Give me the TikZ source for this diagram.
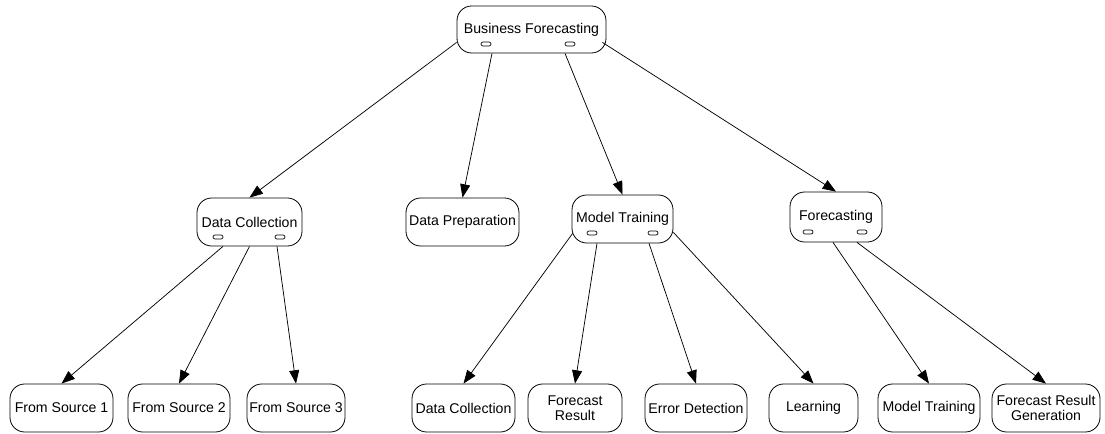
\documentclass[tikz,border=0pt]{standalone}
\usepackage{fontspec}
\setmainfont{Liberation Sans}
\usepackage{tikz}
\usetikzlibrary{arrows.meta,calc}

\tikzset{
  box/.style={draw, rounded corners=11pt, align=center, inner sep=0pt,
    minimum height=36pt, font=\fontsize{10.6}{11.5}\selectfont, line width=0.6pt},
  link/.style={-{Triangle[length=10pt,width=7.5pt]}, line width=0.55pt},
  grip/.style={draw, rounded corners=1.5pt, line width=0.5pt}
}

\begin{document}
\begin{tikzpicture}[x=0.75pt, y=-0.75pt]
  \useasboundingbox (0,0) rectangle (1105,434);
  % top level
  \node[box, minimum width=111.75pt, minimum height=35.25pt] (bf) at (531.5,29.5) {Business Forecasting};
  % second level
  \node[box, minimum width=78.75pt] (dc) at (249.5,222) {Data Collection};
  \node[box, minimum width=84.75pt] (dp) at (462.5,222) {Data Preparation};
  \node[box, minimum width=75.75pt] (mt) at (622.5,219) {Model Training};
  \node[box, minimum width=69pt, minimum height=37.5pt] (fc) at (836,217) {Forecasting};
  % third level
  \node[box, minimum width=77.25pt] (src1) at (61.5,408) {From Source 1};
  \node[box, minimum width=76.5pt] (src2) at (179,408) {From Source 2};
  \node[box, minimum width=73.5pt] (src3) at (296,408) {From Source 3};
  \node[box, minimum width=77.25pt] (mtdata) at (463.5,408) {Data Collection};
  \node[box, minimum width=70.5pt] (mtresult) at (575,408) {Forecast\\Result};
  \node[box, minimum width=76.5pt] (mterror) at (696,408) {Error Detection};
  \node[box, minimum width=66.75pt] (mtlearn) at (813.5,408) {Learning};
  \node[box, minimum width=76.5pt] (fcmodel) at (929,408) {Model Training};
  \node[box, minimum width=81pt] (fcgen) at (1046,408) {Forecast Result\\Generation};
  % collapse grips
  \foreach \gx/\gy in {486/44, 570/44, 218/237, 280/237, 592/233, 653/233, 808/232, 862/232}
    \draw[grip] (\gx-5,\gy-2) rectangle (\gx+5,\gy+2);
  % links
  \draw[link] ($(bf.south west)+(0,-11)$) -- (dc.north);
  \draw[link] ($(bf.south)+(-39.5,0)$) -- (dp.north);
  \draw[link] ($(bf.south)+(33.5,0)$) -- (mt.north);
  \draw[link] ($(bf.south east)+(-4,-11)$) -- (fc.north);
  \draw[link] ($(dc.south)+(-26.5,0)$) -- (src1.north);
  \draw[link] (dc.south) -- (src2.north);
  \draw[link] ($(dc.south)+(27.5,0)$) -- (src3.north);
  \draw[link] ($(mt.south west)+(1,-10)$) -- (mtdata.north);
  \draw[link] ($(mt.south)+(-25.5,0)$) -- (mtresult.north);
  \draw[link] ($(mt.south)+(26.5,0)$) -- (mterror.north);
  \draw[link] ($(mt.south east)+(0,-11)$) -- (mtlearn.north);
  \draw[link] ($(fc.south)+(-3,0)$) -- (fcmodel.north);
  \draw[link] ($(fc.south)+(21,0)$) -- (fcgen.north);
\end{tikzpicture}
\end{document}
